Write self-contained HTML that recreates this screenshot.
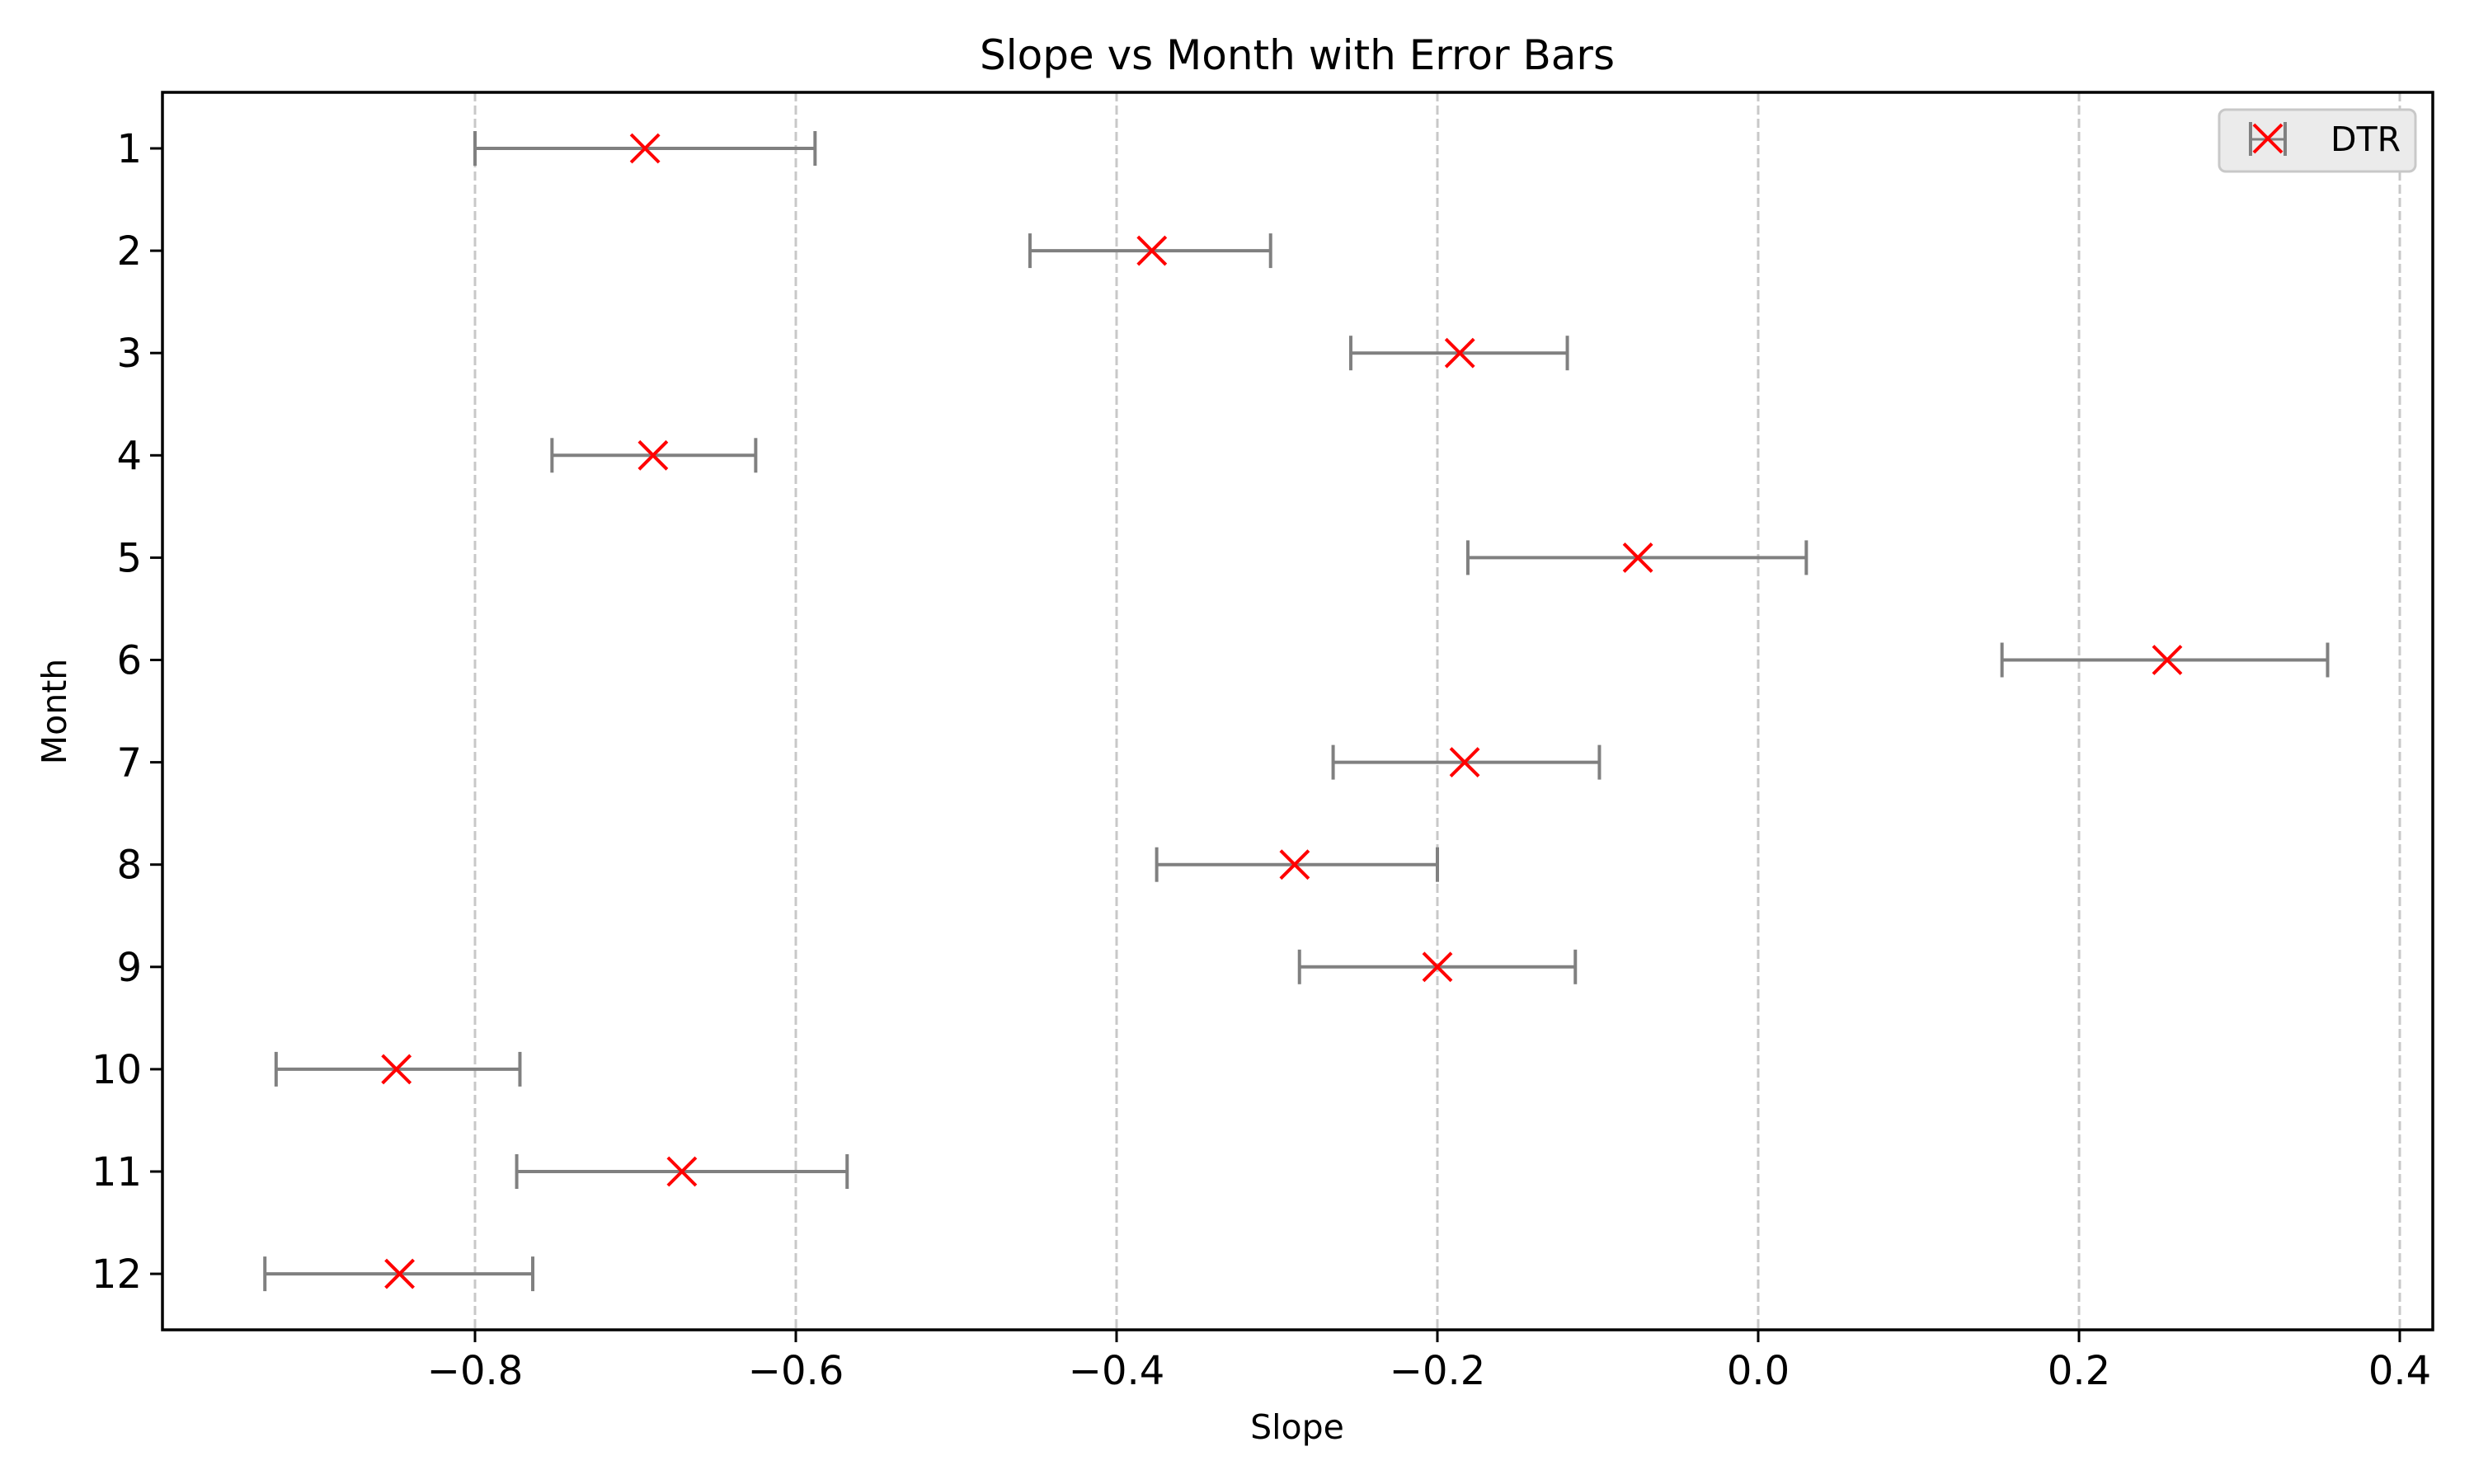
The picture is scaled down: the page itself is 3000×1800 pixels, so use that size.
<!DOCTYPE html>
<html><head><meta charset="utf-8">
<style>
html,body{margin:0;padding:0;background:#fff;}
svg{display:block;font-family:"DejaVu Sans","Liberation Sans",sans-serif;}
</style></head>
<body>
<svg id="chart" width="3000" height="1800" viewBox="0 0 3000 1800" xmlns="http://www.w3.org/2000/svg">
<rect x="0" y="0" width="3000" height="1800" fill="#fff"/>
<g id="grid"></g>
<g id="bars"></g>
<g id="axes"></g>
<text x="1573" y="84" font-size="50" text-anchor="middle">Slope vs Month with Error Bars</text>
<text x="1573" y="1745" font-size="41" text-anchor="middle">Slope</text>
<text x="0" y="0" font-size="41" text-anchor="middle" transform="translate(80,863) rotate(-90)">Month</text>
<g>
<rect x="2691" y="133" width="238" height="75" rx="8" fill="#ebebeb" stroke="#c8c8c8" stroke-width="3"/>
<g>
<line x1="2728" y1="169" x2="2772" y2="169" stroke="#808080" stroke-width="3"/>
<line x1="2729" y1="148" x2="2729" y2="189" stroke="#808080" stroke-width="4"/>
<line x1="2771" y1="148" x2="2771" y2="189" stroke="#808080" stroke-width="4"/>
<line x1="2733" y1="151" x2="2767" y2="185" stroke="#ff0000" stroke-width="4"/>
<line x1="2733" y1="185" x2="2767" y2="151" stroke="#ff0000" stroke-width="4"/>
</g>
<text x="2826" y="183" font-size="41">DTR</text>
</g>
</svg>
<script>
const months = [1,2,3,4,5,6,7,8,9,10,11,12];
const slopes = [-0.694,-0.378,-0.186,-0.689,-0.075,0.255,-0.183,-0.289,-0.200,-0.849,-0.671,-0.847];
const errLow = [0.106,0.076,0.068,0.063,0.106,0.103,0.082,0.086,0.086,0.075,0.103,0.084];
const errHigh = [0.106,0.074,0.067,0.064,0.105,0.100,0.084,0.089,0.086,0.077,0.103,0.083];
const xTicks = [-0.8,-0.6,-0.4,-0.2,0.0,0.2,0.4];
const xTickLabels = ["\u22120.8","\u22120.6","\u22120.4","\u22120.2","0.0","0.2","0.4"];

const NS="http://www.w3.org/2000/svg";
const L=197,R=2950,T=112,B=1613;
function xs(v){return 2132+v*1945;}
function ys(m){return 180+(m-1)*124.1;}
function mk(tag,attrs,parent){const e=document.createElementNS(NS,tag);for(const k in attrs)e.setAttribute(k,attrs[k]);parent.appendChild(e);return e;}
const grid=document.getElementById('grid'),bars=document.getElementById('bars'),axes=document.getElementById('axes');

xTicks.forEach((t,i)=>{
  const x=xs(t);
  const g=mk('line',{x1:x,x2:x,y1:T,y2:B,stroke:'#c8c8c8','stroke-width':3,'stroke-dasharray':'11 5'},grid);
  
  
  const tk=mk('line',{x1:x,x2:x,y1:B,y2:B+15,stroke:'#000','stroke-width':3},axes);
  
  
  const tl=mk('text',{x:x,y:B+66,'font-size':48,'text-anchor':'middle'},axes);
  tl.textContent=xTickLabels[i];
  
  
});
months.forEach((m,i)=>{
  const y=ys(m);
  const tk=mk('line',{x1:L-15,x2:L,y1:y,y2:y,stroke:'#000','stroke-width':3},axes);
  
  
  const tl=mk('text',{x:L-25,y:y+17,'font-size':48,'text-anchor':'end'},axes);
  tl.textContent=String(m);
  
  
  const g=mk('g',{},bars);
  
  
  const x0=xs(slopes[i]-errLow[i]),x1=xs(slopes[i]+errHigh[i]),xc=xs(slopes[i]);
  mk('line',{x1:x0,x2:x1,y1:y,y2:y,stroke:'#808080','stroke-width':4},g);
  mk('line',{x1:x0,x2:x0,y1:y-21,y2:y+21,stroke:'#808080','stroke-width':4},g);
  mk('line',{x1:x1,x2:x1,y1:y-21,y2:y+21,stroke:'#808080','stroke-width':4},g);
  const p=mk('g',{},bars);
  
  
  mk('line',{x1:xc-17,x2:xc+17,y1:y-17,y2:y+17,stroke:'#ff0000','stroke-width':4},p);
  mk('line',{x1:xc-17,x2:xc+17,y1:y+17,y2:y-17,stroke:'#ff0000','stroke-width':4},p);
});
const fr=mk('rect',{x:L,y:T,width:R-L,height:B-T,fill:'none',stroke:'#000','stroke-width':3.5},axes);


</script>
</body></html>
